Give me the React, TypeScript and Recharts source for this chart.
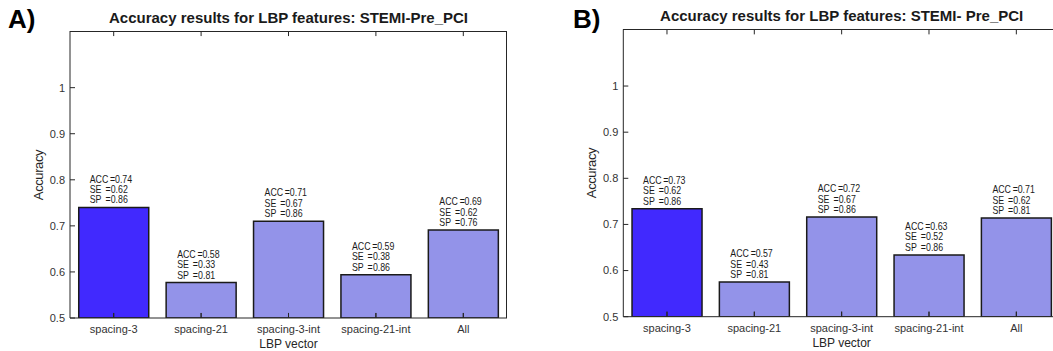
import React from 'react';
import { BarChart, Bar, XAxis, YAxis, Cell, LabelList, ReferenceLine } from 'recharts';

const categories = ['spacing-3', 'spacing-21', 'spacing-3-int', 'spacing-21-int', 'All'];

// panel A
const accA = [0.74, 0.577, 0.71, 0.594, 0.691];
const accTextA = ['0.74', '0.58', '0.71', '0.59', '0.69'];
const seTextA = ['0.62', '0.33', '0.67', '0.38', '0.62'];
const spTextA = ['0.86', '0.81', '0.86', '0.86', '0.76'];

// panel B
const accB = [0.734, 0.575, 0.716, 0.634, 0.714];
const accTextB = ['0.73', '0.57', '0.72', '0.63', '0.71'];
const seTextB = ['0.62', '0.43', '0.67', '0.52', '0.62'];
const spTextB = ['0.86', '0.81', '0.86', '0.86', '0.81'];

const yTicks = [0.5, 0.6, 0.7, 0.8, 0.9, 1];
const yMin = 0.5;
const yMax = 1.123;
const tickLen = 0.011; // ~5px in data units

const FONT = '"Liberation Sans", Arial, sans-serif';
const AXIS = '#262626';

interface PanelProps {
  letter: string;
  title: string;
  values: number[];
  accText: string[];
  seText: string[];
  spText: string[];
  left: number;
  width: number;
  margin: { top: number; right: number; left: number; bottom: number };
}

const Panel: React.FC<PanelProps> = ({ letter, title, values, accText, seText, spText, left, width, margin }) => {
  const data = categories.map((name, i) => ({ name, acc: values[i] }));
  const plotLeft = margin.left + 40;
  const plotRight = width - margin.right;
  const plotTop = margin.top;
  const plotBottom = 351 - margin.bottom - 30;
  const cx = (plotLeft + plotRight) / 2;

  const renderStats = (props: any) => {
    const { x, y, index } = props;
    const x0 = Number(x) + 11;
    const y0 = Number(y) - 4;
    // condensed text, offsets in unscaled units
    const rows = [
      { lab: 'ACC', eq: 25.4, val: 31.6, text: accText[index] },
      { lab: 'SE', eq: 19.6, val: 26.2, text: seText[index] },
      { lab: 'SP', eq: 19.6, val: 26.2, text: spText[index] },
    ];
    return (
      <g fontFamily={FONT} fontSize={11} fill="#1a1a1a">
        {rows.map((r, k) => (
          <g key={r.lab} transform={`translate(${x0},${y0 - (2 - k) * 10.4}) scale(0.8,1)`}>
            <text x={0} y={0}>{r.lab}</text>
            <text x={r.eq} y={0}>=</text>
            <text x={r.val} y={0}>{r.text}</text>
          </g>
        ))}
      </g>
    );
  };

  return (
    <div style={{ position: 'absolute', left, top: 0, width, height: 351 }}>
      <BarChart width={width} height={351} data={data} margin={margin} barCategoryGap="10%">
        <Bar dataKey="acc" stroke="#1a1a1a" strokeWidth={1.5} isAnimationActive={false}>
          {data.map((d, i) => (
            <Cell key={d.name} fill={i === 0 ? '#4129fe' : '#9393e9'} />
          ))}
          <LabelList dataKey="acc" content={renderStats} />
        </Bar>
        <XAxis
          dataKey="name"
          height={30}
          stroke={AXIS}
          interval={0}
          tickSize={-5}
          tickMargin={12}
          tick={{ fill: '#333', fontSize: 11, fontFamily: FONT }}
        />
        <YAxis
          domain={[yMin, yMax]}
          ticks={yTicks}
          width={40}
          stroke={AXIS}
          tickSize={-5}
          tickMargin={10}
          allowDataOverflow
          tickFormatter={(v) => (v === 1 ? '1' : String(v))}
          tick={{ fill: '#333', fontSize: 11, fontFamily: FONT }}
        />
        {/* inward ticks at the top and bottom of each category */}
        {categories.map((c) => (
          <ReferenceLine
            key={'t' + c}
            segment={[{ x: c, y: yMax }, { x: c, y: yMax - tickLen }]}
            stroke={AXIS}
            ifOverflow="visible"
          />
        ))}
        {categories.map((c) => (
          <ReferenceLine
            key={'b' + c}
            segment={[{ x: c, y: yMin }, { x: c, y: yMin + tickLen }]}
            stroke={AXIS}
            ifOverflow="visible"
          />
        ))}
      </BarChart>
      {/* top and right edges of the plot frame */}
      <div
        style={{
          position: 'absolute', left: plotLeft, top: plotTop, width: plotRight - plotLeft, height: plotBottom - plotTop,
          borderTop: `1px solid ${AXIS}`, borderRight: `1px solid ${AXIS}`, boxSizing: 'border-box', pointerEvents: 'none',
        }}
      />
      <div style={{ position: 'absolute', left: left === 0 ? 8 : 43, top: 4, fontFamily: FONT, fontWeight: 'bold', fontSize: 26 }}>
        {letter}
      </div>
      <div
        style={{
          position: 'absolute', left: cx - 250, width: 500, top: plotTop - 21, textAlign: 'center',
          fontFamily: FONT, fontWeight: 'bold', fontSize: 15, color: '#1a1a1a', lineHeight: '16px',
        }}
      >
        {title}
      </div>
      <div
        style={{
          position: 'absolute', left: plotLeft - 31 - 50, width: 100, top: (plotTop + plotBottom) / 2 - 8, textAlign: 'center',
          transform: 'rotate(-90deg)', fontFamily: FONT, fontSize: 13, color: '#262626', lineHeight: '16px', letterSpacing: -0.4,
        }}
      >
        Accuracy
      </div>
      <div
        style={{
          position: 'absolute', left: cx - 60, width: 120, top: plotBottom + 19, textAlign: 'center',
          fontFamily: FONT, fontSize: 12, color: '#262626', lineHeight: '14px',
        }}
      >
        LBP vector
      </div>
    </div>
  );
};

export default function App() {
  return (
    <div style={{ position: 'fixed', left: 0, top: 0, width: 1053, height: 351, overflow: 'hidden', background: '#fff' }}>
      <Panel
        letter="A)"
        title="Accuracy results for LBP features: STEMI-Pre_PCI"
        values={accA}
        accText={accTextA}
        seText={seTextA}
        spText={spTextA}
        left={0}
        width={530}
        margin={{ top: 31, right: 23, left: 30, bottom: 3 }}
      />
      <Panel
        letter="B)"
        title="Accuracy results for LBP features: STEMI- Pre_PCI"
        values={accB}
        accText={accTextB}
        seText={seTextB}
        spText={spTextB}
        left={530}
        width={560}
        margin={{ top: 29.3, right: 30, left: 53.3, bottom: 4.3 }}
      />
    </div>
  );
}
